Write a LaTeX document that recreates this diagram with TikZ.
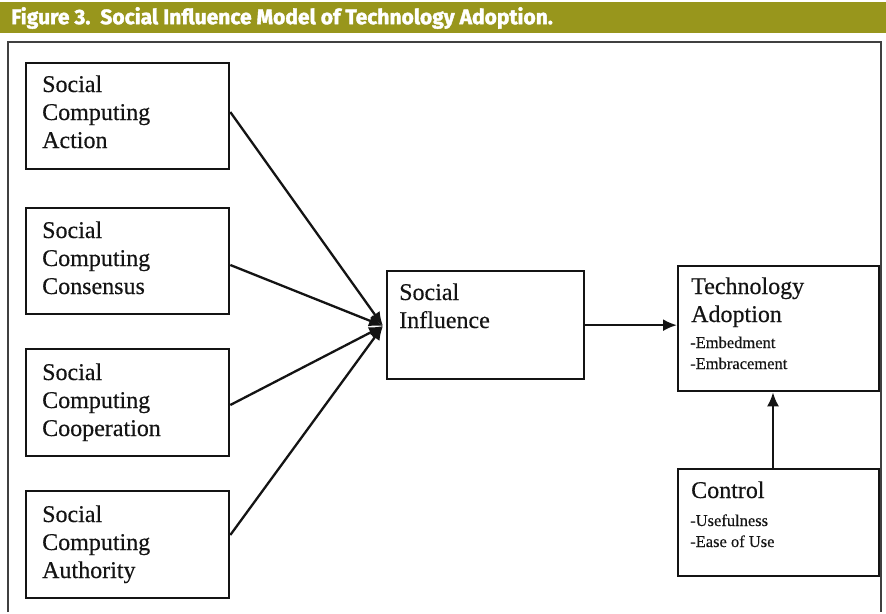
\documentclass[tikz,border=0pt]{standalone}
\usepackage{fontspec}
\setmainfont{Liberation Serif}[FakeBold=0.4]
\newfontfamily\titlefont{Fira Sans}[BoldFeatures={FakeBold=1.8}]
\usetikzlibrary{arrows.meta}
\definecolor{titlebg}{RGB}{152,150,28}
\definecolor{ink}{RGB}{20,20,20}
\begin{document}
\begin{tikzpicture}[x=1pt,y=-1pt,
  box/.style={draw=ink,line width=2.3pt,anchor=north west,inner sep=0pt},
  big/.style={anchor=base west,inner sep=0pt,font=\fontsize{24}{28}\selectfont,text=ink},
  small/.style={anchor=base west,inner sep=0pt,font=\fontsize{16.5}{19}\selectfont,text=ink},
  conn/.style={draw=ink,line width=2.3pt,-{Latex[length=14pt,width=12pt]}}]
\useasboundingbox (0,0) rectangle (886,613);
\fill[white] (0,0) rectangle (886,613);
% title bar
\fill[titlebg] (0,2) rectangle (886,33);
\node[anchor=west,inner sep=0pt,text=white,font=\titlefont\bfseries\fontsize{21}{23}\selectfont] (title) at (11,18) {Figure 3.\ \ Social Influence Model of Technology Adoption.};
% outer frame
\draw[draw=black!75,line width=1.4pt] (8,612) -- (8,42) -- (881,42) -- (881,612);
% boxes
\node[box,minimum width=203pt,minimum height=106pt] (act) at (25,62) {};
\node[box,minimum width=203pt,minimum height=106pt] (cons) at (25,207) {};
\node[box,minimum width=203pt,minimum height=107pt] (coop) at (25,348) {};
\node[box,minimum width=203pt,minimum height=107pt] (auth) at (25,490) {};
\node[box,minimum width=197pt,minimum height=108pt] (si) at (386,270) {};
\node[box,minimum width=201pt,minimum height=125pt] (ta) at (677,265) {};
\node[box,minimum width=201pt,minimum height=107pt] (ctl) at (677,468) {};
% texts
\node[big] (t1a) at (42,92) {Social};
\node[big] (t1b) at (42,120) {Computing};
\node[big] (t1c) at (42,148) {Action};
\node[big] (t2a) at (42,238) {Social};
\node[big] (t2b) at (42,266) {Computing};
\node[big] (t2c) at (42,294) {Consensus};
\node[big] (t3a) at (42,380) {Social};
\node[big] (t3b) at (42,408) {Computing};
\node[big] (t3c) at (42,436) {Cooperation};
\node[big] (t4a) at (42,522) {Social};
\node[big] (t4b) at (42,550) {Computing};
\node[big] (t4c) at (42,578) {Authority};
\node[big] (t5a) at (399,300) {Social};
\node[big] (t5b) at (399,328) {Influence};
\node[big] (t6a) at (691,294) {Technology};
\node[big] (t6b) at (691,322) {Adoption};
\node[small] (t6c) at (690,348) {-Embedment};
\node[small] (t6d) at (690,369) {-Embracement};
\node[big] (t7a) at (691,498) {Control};
\node[small] (t7b) at (690,526) {-Usefulness};
\node[small] (t7c) at (690,547) {-Ease of Use};
% connectors
\coordinate (m) at (383,326);
\draw[conn] (act.east |- 0,112) -- (m);
\draw[conn] (cons.east |- 0,265) -- (m);
\draw[conn] (coop.east |- 0,405) -- (m);
\draw[conn] (auth.east |- 0,535) -- (m);
\draw[conn] (si.east) -- (si.east -| ta.west);
\draw[conn] (ctl.north -| 773,0) -- (ta.south -| 773,0);
\end{tikzpicture}
\end{document}
